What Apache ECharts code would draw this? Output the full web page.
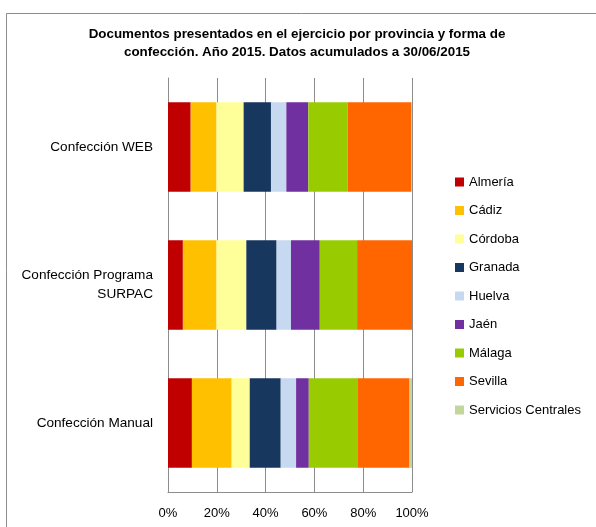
<!DOCTYPE html>
<html><head><meta charset="utf-8">
<script src="https://cdn.jsdelivr.net/npm/echarts@6/dist/echarts.min.js"></script>
<style>html,body{margin:0;padding:0;background:#fff}#c{width:596px;height:527px}</style>
</head><body><div id="c"></div>
<script>
const categories = ['Confección WEB', 'Confección Programa\nSURPAC', 'Confección Manual'];
const provinces = ['Almería','Cádiz','Córdoba','Granada','Huelva','Jaén','Málaga','Sevilla','Servicios Centrales'];
const almeria = [9.3, 6.1, 9.8];
const cadiz = [10.6, 13.8, 16.3];
const cordoba = [11.1, 12.2, 7.4];
const granada = [11.2, 12.4, 12.7];
const huelva = [6.3, 5.9, 6.3];
const jaen = [9.0, 11.8, 5.2];
const malaga = [16.1, 15.3, 19.9];
const sevilla = [26.0, 22.5, 21.4];
const serviciosCentrales = [0.4, 0.1, 1.0];
const xTicks = [0, 20, 40, 60, 80, 100];
const colors = ['#C00000','#FFC000','#FFFF99','#17375E','#C6D9F1','#7030A0','#99CC00','#FF6600','#C3D69B'];
const seriesValues = [almeria, cadiz, cordoba, granada, huelva, jaen, malaga, sevilla, serviciosCentrales];

const chart = echarts.init(document.getElementById('c'));
const font = "'Liberation Sans', Arial, sans-serif";
chart.setOption({
  animation: false,
  color: colors,
  title: {
    text: 'Documentos presentados en el ejercicio por provincia y forma de\nconfección. Año 2015. Datos acumulados a 30/06/2015',
    left: 297, top: 25, textAlign: 'center', padding: 0,
    textStyle: {fontFamily: font, fontWeight: 'bold', fontSize: 13.4, lineHeight: 18, color: '#000'}
  },
  graphic: [{type: 'polyline', shape: {points: [[6.5, 540], [6.5, 13.5], [600, 13.5]]}, style: {stroke: '#8c8c8c', lineWidth: 1, fill: null}}],
  legend: {
    orient: 'vertical', left: 455, top: 175, padding: 0,
    itemWidth: 9, itemHeight: 9, itemGap: 14.5, icon: 'rect',
    textStyle: {fontFamily: font, fontSize: 13, color: '#000', lineHeight: 14},
    data: provinces
  },
  grid: {left: 168, right: 184, top: 78, bottom: 35, containLabel: false},
  xAxis: {
    type: 'value', min: 0, max: 100, interval: 20,
    axisLabel: {formatter: v => xTicks.includes(v) ? v + '%' : '', margin: 15, fontFamily: font, fontSize: 13, color: '#000'},
    splitLine: {show: true, lineStyle: {color: '#8c8c8c', width: 1}},
    axisLine: {show: true, lineStyle: {color: '#8c8c8c'}},
    axisTick: {show: false}
  },
  yAxis: {
    type: 'category', inverse: true, data: categories,
    axisLabel: {margin: 15, fontFamily: font, fontSize: 13.6, color: '#000', lineHeight: 19, align: 'right'},
    axisLine: {show: true, lineStyle: {color: '#8c8c8c'}},
    axisTick: {show: false}
  },
  series: provinces.map((p, i) => ({
    name: p, type: 'bar', stack: 'total', barCategoryGap: '35%',
    data: seriesValues[i]
  }))
});
</script></body></html>
